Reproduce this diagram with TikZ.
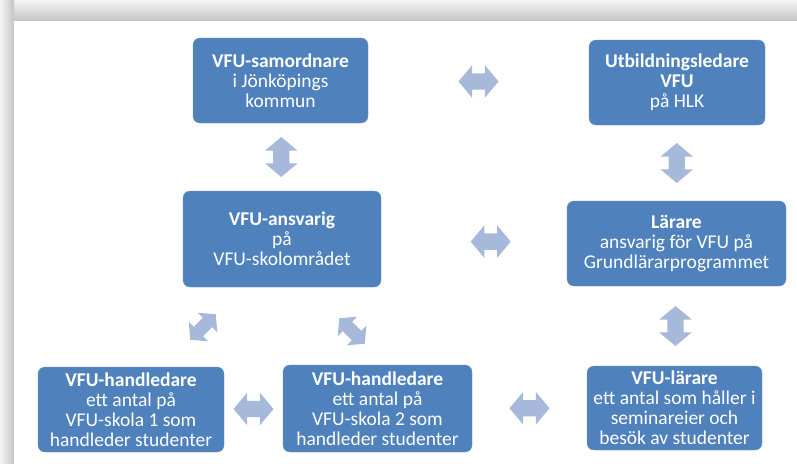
\documentclass[tikz,border=0pt]{standalone}
\usepackage{fontspec}
\setmainfont{Carlito}
\usetikzlibrary{shapes.arrows, calc}
\definecolor{vfublue}{HTML}{4F81BD}
\definecolor{vfupil}{HTML}{A6B9DB}
\definecolor{ramgra}{HTML}{C4C4C4}

\begin{document}
\begin{tikzpicture}[x=1pt, y=-1pt,
    ruta/.style={fill=vfublue, draw=vfublue!85!white, rounded corners=7pt, text=white,
      align=center, inner sep=1pt, font=\fontsize{19.5}{20}\selectfont},
    dpil/.style={double arrow, fill=vfupil, draw=none, inner xsep=0pt, inner ysep=8pt,
      minimum height=40pt, double arrow head extend=8pt,
      double arrow tip angle=100},
    snedpil/.style={dpil, inner ysep=6.5pt, minimum height=36pt, double arrow head extend=7pt}]
  \useasboundingbox (0,0) rectangle (797,463);
  % Ram
  \fill[white] (0,0) rectangle (797,463);
  \shade[top color=gray!8, bottom color=ramgra] (0,0) rectangle (797,21);
  \shade[left color=gray!8, right color=ramgra] (0,0) rectangle (14,463);
  \fill[white] (14,21) rectangle (797,463);
  % Rutor
  \node[ruta, minimum width=175pt, minimum height=85pt] (samord) at (280.5,80.5)
    {\textbf{VFU-samordnare}\\ i Jönköpings\\ kommun};
  \node[ruta, minimum width=176pt, minimum height=85pt] (utbild) at (677,82.5)
    {\textbf{Utbildningsledare}\\ \textbf{VFU}\\ på HLK};
  \node[ruta, minimum width=198pt, minimum height=96pt] (ansvar) at (282,239)
    {\textbf{VFU-ansvarig}\\ på\\ VFU-skolområdet};
  \node[ruta, minimum width=219pt, minimum height=85pt] (larare) at (676.5,243.5)
    {\textbf{Lärare}\\ ansvarig för VFU på\\ Grundlärarprogrammet};
  \node[ruta, minimum width=186pt, minimum height=85pt] (handl1) at (131,409.5)
    {\textbf{VFU-handledare}\\ ett antal på\\ VFU-skola 1 som\\ handleder studenter};
  \node[ruta, minimum width=189pt, minimum height=87pt] (handl2) at (377.5,408.5)
    {\textbf{VFU-handledare}\\ ett antal på\\ VFU-skola 2 som\\ handleder studenter};
  \node[ruta, minimum width=175pt, minimum height=84pt] (vfular) at (674.5,408)
    {\textbf{VFU-lärare}\\ ett antal som håller i\\ seminareier och\\ besök av studenter};
  % Pilar
  \node[dpil] (p12) at ($(samord.east)!0.5!(utbild.west)$) {};
  \node[dpil, rotate=90] (p13) at ($(samord.south)!0.5!(ansvar.north)$) {};
  \node[dpil, rotate=90] (p24) at ($(utbild.south)!0.5!(larare.north)$) {};
  \node[dpil] (p34) at ($(ansvar.east)!0.59!(larare.west)$) {};
  \node[dpil, rotate=90] (p47) at ($(larare.south)!0.5!(vfular.north)$) {};
  \node[dpil] (p56) at ($(handl1.east)!0.5!(handl2.west)$) {};
  \node[dpil] (p67) at ($(handl2.east)!0.5!(vfular.west)$) {};
  \node[snedpil, rotate=45] (p35) at (203,327) {};
  \node[snedpil, rotate=-45] (p36) at (352,331) {};
\end{tikzpicture}
\end{document}
